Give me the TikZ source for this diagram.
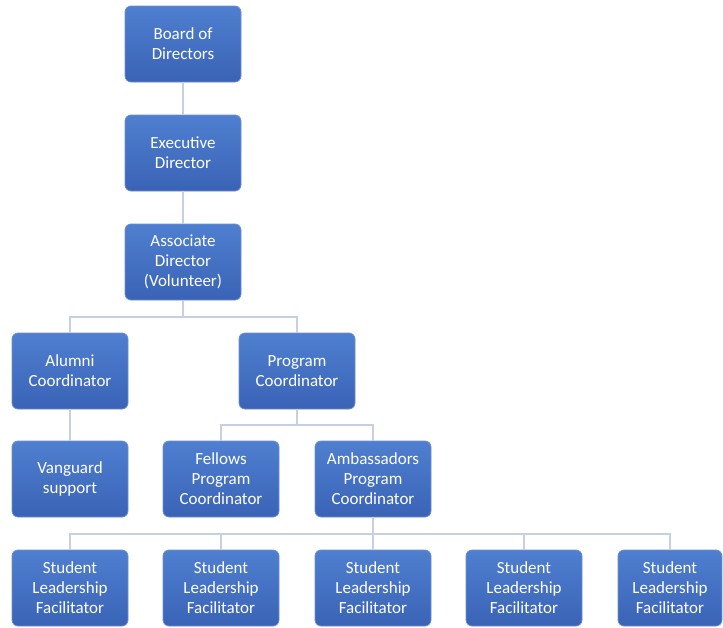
\documentclass[tikz,border=0pt]{standalone}
\usepackage{fontspec}
\setmainfont{Carlito}
\definecolor{linecol}{HTML}{C5D0E2}
\definecolor{boxtop}{HTML}{4F7FD0}
\definecolor{boxbot}{HTML}{3A63B6}
\definecolor{boxedge}{HTML}{6E8FD0}
\tikzset{
  orgbox/.style={rectangle, rounded corners=6pt, draw=boxedge, line width=0.8pt,
    top color=boxtop, bottom color=boxbot, text=white, align=center,
    minimum width=116pt, minimum height=76pt, inner sep=2pt,
    font=\fontsize{17}{20}\selectfont},
  conn/.style={draw=linecol, line width=2pt}
}
\begin{document}
\begin{tikzpicture}[x=1pt,y=-1pt]
\useasboundingbox (0,0) rectangle (723,627);
\node[orgbox] (board) at (183,44) {Board of\\Directors};
\node[orgbox] (exec) at (183,153) {Executive\\Director};
\node[orgbox] (assoc) at (183,262) {Associate\\Director\\(Volunteer)};
\node[orgbox] (alumni) at (70,371) {Alumni\\Coordinator};
\node[orgbox] (prog) at (297,371) {Program\\Coordinator};
\node[orgbox] (vang) at (70,479) {Vanguard\\support};
\node[orgbox] (fell) at (221,479) {Fellows\\Program\\Coordinator};
\node[orgbox] (amb) at (373,479) {Ambassadors\\Program\\Coordinator};
\node[orgbox] (s1) at (70,588) {Student\\Leadership\\Facilitator};
\node[orgbox] (s2) at (221,588) {Student\\Leadership\\Facilitator};
\node[orgbox] (s3) at (373,588) {Student\\Leadership\\Facilitator};
\node[orgbox] (s4) at (524,588) {Student\\Leadership\\Facilitator};
\node[orgbox, minimum width=104pt] (s5) at (670,588) {Student\\Leadership\\Facilitator};
\coordinate (j1) at (183,317);
\coordinate (j2) at (297,425);
\coordinate (j3) at (373,534);
\path[conn] (board.south) -- (exec.north);
\path[conn] (exec.south) -- (assoc.north);
\path[conn] (assoc.south) -- (j1);
\path[conn] (alumni.north) |- (j1) -| (prog.north);
\path[conn] (alumni.south) -- (vang.north);
\path[conn] (prog.south) -- (j2);
\path[conn] (fell.north) |- (j2) -| (amb.north);
\path[conn] (amb.south) -- (j3);
\path[conn] (s1.north) |- (j3) -| (s5.north);
\path[conn] (s2.north) |- (j3);
\path[conn] (s3.north) -- (j3);
\path[conn] (s4.north) |- (j3);
\end{tikzpicture}
\end{document}
